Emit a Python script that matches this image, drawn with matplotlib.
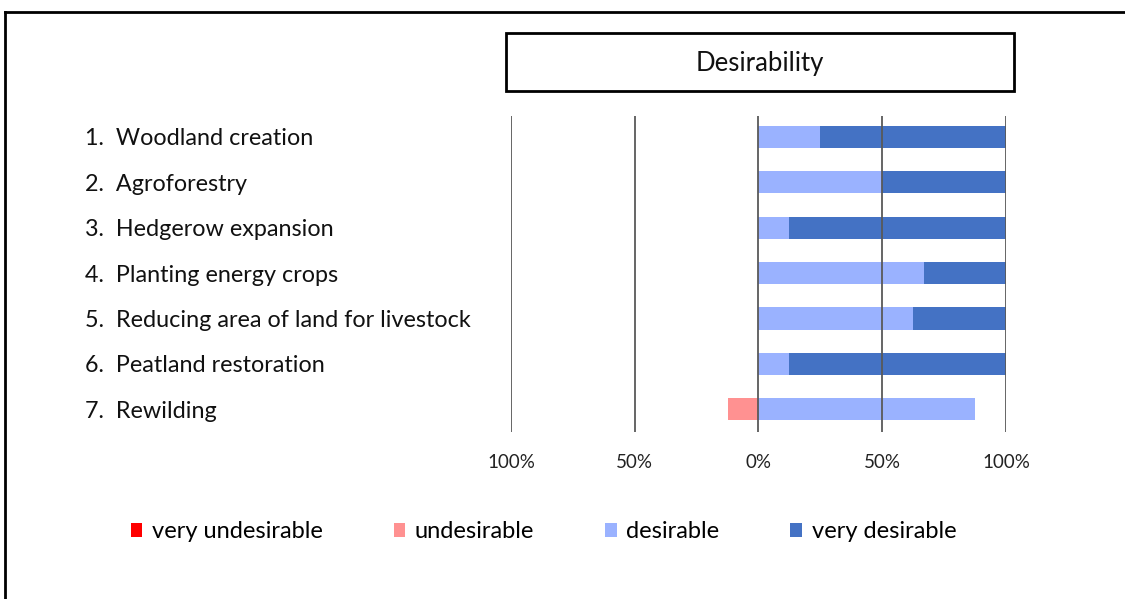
import numpy as np
import matplotlib.pyplot as plt
from matplotlib.patches import Patch, Rectangle
from matplotlib.lines import Line2D

plt.rcParams['font.family'] = ['Lato', 'DejaVu Sans']

# data (percent of responses)
options = ['Woodland creation', 'Agroforestry', 'Hedgerow expansion',
           'Planting energy crops', 'Reducing area of land for livestock',
           'Peatland restoration', 'Rewilding']
very_undesirable = [0, 0, 0, 0, 0, 0, 0]
undesirable = [0, 0, 0, 0, 0, 0, 12.5]
desirable = [25, 50, 12.5, 66.7, 62.5, 12.5, 87.5]
very_desirable = [75, 50, 87.5, 33.3, 37.5, 87.5, 0]

series_names = ['very undesirable', 'undesirable', 'desirable', 'very desirable']
colors = ['#FF0000', '#FF9191', '#9AB2FF', '#4472C4']
ticks = [-100, -50, 0, 50, 100]
tick_labels = ['100%', '50%', '0%', '50%', '100%']

fig = plt.figure(figsize=(11.25, 5.99), dpi=100)
ax = fig.add_axes([0.4542, 0.279, 0.44, 0.528])

y = np.arange(len(options))
und = np.array(undesirable)
vund = np.array(very_undesirable)
des = np.array(desirable)
vdes = np.array(very_desirable)
h = 0.49

ax.barh(y, -und, height=h, color=colors[1], zorder=1)
ax.barh(y, -vund, left=-und, height=h, color=colors[0], zorder=1)
ax.barh(y, des, height=h, color=colors[2], zorder=1)
ax.barh(y, vdes, left=des, height=h, color=colors[3], zorder=1)

for t in ticks:
    ax.axvline(t, color='#595959', lw=1.3, zorder=3)

ax.set_xlim(-100, 100)
ax.set_ylim(6.5, -0.47)
ax.set_xticks(ticks)
ax.set_xticklabels(tick_labels, fontsize=13.5, color='#222222')
ax.tick_params(axis='x', length=0, pad=16)
ax.set_yticks([])
for s in ax.spines.values():
    s.set_visible(False)

# category labels
for i, name in enumerate(options):
    yy = ax.transData.transform((0, i))[1] / fig.dpi / 5.99
    fig.text(85 / 1125, yy - 2 / 599, f'{i + 1}.  {name}', fontsize=16.8,
             va='center', ha='left', color='#111111')

# title box
fig.patches.append(Rectangle((506 / 1125, 1 - 91 / 599), 508 / 1125, 58 / 599,
                             transform=fig.transFigure, fill=False,
                             edgecolor='black', lw=2))
fig.text(760 / 1125, 1 - 63 / 599, 'Desirability', fontsize=18.5,
         ha='center', va='center', color='#111111')

# outer frame
fig.lines.append(Line2D([5 / 1125, 5 / 1125], [0, 1 - 12 / 599],
                        transform=fig.transFigure, color='black', lw=2))
fig.lines.append(Line2D([5 / 1125, 1], [1 - 12 / 599, 1 - 12 / 599],
                        transform=fig.transFigure, color='black', lw=2))

handles = [Patch(facecolor=c, edgecolor='none') for c in colors]
fig.legend(handles, series_names, loc='center', ncol=4,
           bbox_to_anchor=(0.483, 1 - 532 / 599), frameon=False,
           fontsize=17, handlelength=0.5, handleheight=0.5,
           handletextpad=0.4, columnspacing=3.0)

plt.savefig('out.png', dpi=100)
plt.close()
